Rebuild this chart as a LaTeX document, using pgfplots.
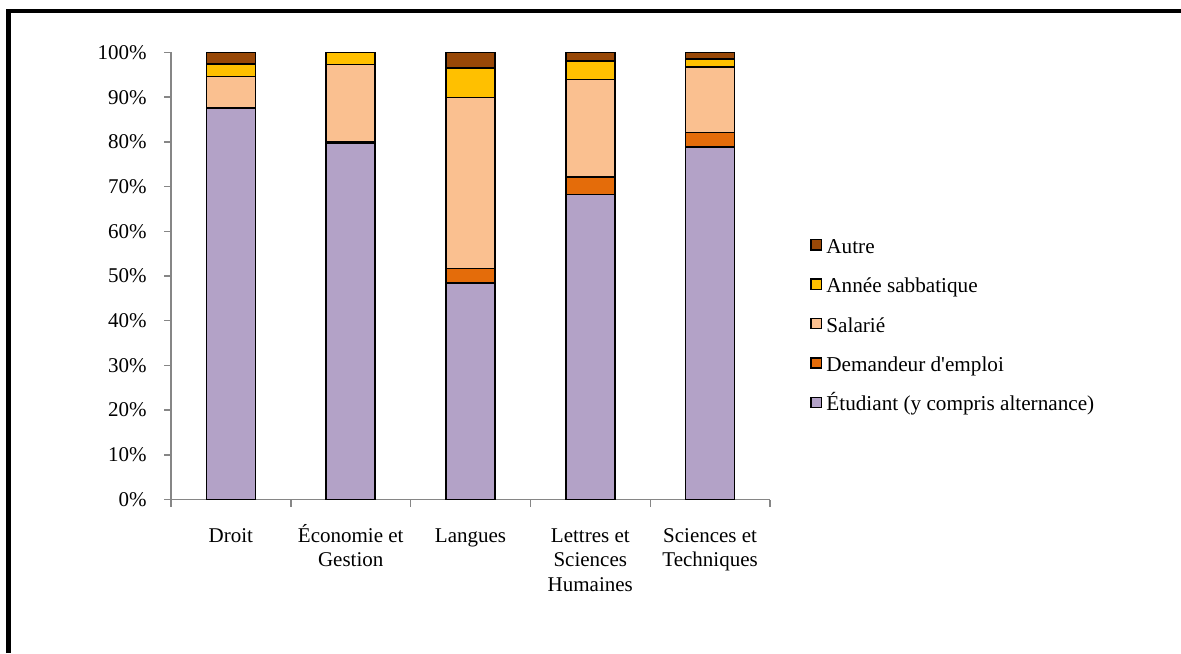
\documentclass[border=0pt]{standalone}
\usepackage{pgfplots}
\pgfplotsset{compat=1.18}
\usepackage{fontspec}
\setmainfont{Liberation Serif}
\definecolor{cEtu}{HTML}{B3A2C7}
\definecolor{cDem}{HTML}{E46C0A}
\definecolor{cSal}{HTML}{FAC090}
\definecolor{cAnn}{HTML}{FFC000}
\definecolor{cAut}{HTML}{984807}
\definecolor{axgray}{HTML}{868686}
\newcommand{\st}{\rule{0pt}{10pt}}
\begin{document}
\begin{tikzpicture}
\useasboundingbox (0,0) rectangle (590.5pt,326.5pt);
\draw[line width=2.25pt, line join=miter] (4.2pt,0) -- (4.2pt,320.9pt) -- (590.5pt,320.9pt);
\begin{axis}[
  at={(85.5pt,76.75pt)}, anchor=south west,
  scale only axis, width=299.5pt, height=223.5pt,
  ybar stacked, bar width=24.5pt,
  xmin=-0.5, xmax=4.5, ymin=0, ymax=100,
  axis x line*=bottom, axis y line*=left,
  axis line style={draw=axgray, line width=0.7pt, -},
  xtick={0,1,2,3,4},
  xticklabels={\st Droit,{\st Économie et\\Gestion},\st Langues,{\st Lettres et\\Sciences\\Humaines},{\st Sciences et\\Techniques}},
  major x tick style={draw=none},
  minor xtick={-0.5,0.5,1.5,2.5,3.5,4.5},
  minor x tick style={draw=axgray, line width=0.7pt},
  minor tick length=3.5pt,
  major tick length=3.5pt,
  tick align=outside,
  ytick={0,10,...,100},
  y tick style={draw=axgray, line width=0.7pt},
  yticklabel={\pgfmathprintnumber{\tick}\%},
  /pgf/number format/assume math mode=true,
  tick label style={font=\fontsize{10.5}{12.3}\selectfont},
  xticklabel style={align=center, anchor=north, inner sep=0pt, yshift=-7.6pt},
  yticklabel style={anchor=east, inner sep=0pt, xshift=-12pt+3.5pt},
  every axis plot/.append style={draw=black, line width=0.8pt},
  reverse legend,
  legend cell align=left,
  legend image code/.code={\draw[#1, draw=black, line width=0.7pt] (0pt,-0.8pt) rectangle (5.3pt,4.3pt);},
  legend style={draw=none, fill=none, inner sep=0pt, anchor=north west,
    at={(1.0668,0.5835)}, font=\fontsize{10.6}{12.35}\selectfont,
    row sep=10.55pt, column sep=2pt,
    nodes={inner sep=0pt, text height=7pt, text depth=2pt}},
]
\addplot[fill=cEtu] coordinates {(0,87.6) (1,79.8) (2,48.4) (3,68.2) (4,78.8)};
\addplot[fill=cDem] coordinates {(0,0.1) (1,0.3) (2,3.3) (3,4.0) (4,3.3)};
\addplot[fill=cSal] coordinates {(0,6.9) (1,17.2) (2,38.2) (3,21.8) (4,14.7)};
\addplot[fill=cAnn] coordinates {(0,2.8) (1,2.7) (2,6.6) (3,4.1) (4,1.8)};
\addplot[fill=cAut] coordinates {(0,2.6) (1,0.0) (2,3.5) (3,1.9) (4,1.4)};
\legend{Étudiant (y compris alternance),Demandeur d\textquotesingle emploi,Salarié,Année sabbatique,Autre}
\end{axis}
\end{tikzpicture}
\end{document}
